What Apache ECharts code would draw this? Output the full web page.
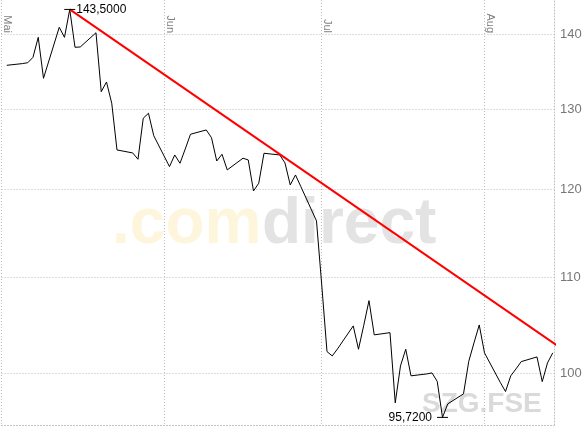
<!DOCTYPE html>
<html><head><meta charset="utf-8">
<script src="https://cdn.jsdelivr.net/npm/echarts@6/dist/echarts.min.js"></script>
<style>html,body{margin:0;padding:0;background:#fff}#c{width:587px;height:428px}</style>
</head><body><div id="c"></div>
<script>
// ---- data (SZG.FSE daily closes, May–Aug 2008) ----
const dates = [
 '2008-05-02','2008-05-05','2008-05-06','2008-05-07','2008-05-08','2008-05-09','2008-05-12','2008-05-13','2008-05-14','2008-05-15','2008-05-16',
 '2008-05-19','2008-05-20','2008-05-21','2008-05-22','2008-05-23','2008-05-26','2008-05-27','2008-05-28','2008-05-29','2008-05-30',
 '2008-06-02','2008-06-03','2008-06-04','2008-06-05','2008-06-06','2008-06-09','2008-06-10','2008-06-11','2008-06-12','2008-06-13',
 '2008-06-16','2008-06-17','2008-06-18','2008-06-19','2008-06-20','2008-06-23','2008-06-24','2008-06-25','2008-06-26','2008-06-27','2008-06-30',
 '2008-07-01','2008-07-02','2008-07-03','2008-07-04','2008-07-07','2008-07-08','2008-07-09','2008-07-10','2008-07-11',
 '2008-07-14','2008-07-15','2008-07-16','2008-07-17','2008-07-18','2008-07-21','2008-07-22','2008-07-23','2008-07-24','2008-07-25',
 '2008-07-28','2008-07-29','2008-07-30','2008-07-31','2008-08-01','2008-08-04','2008-08-05','2008-08-06','2008-08-07','2008-08-08',
 '2008-08-11','2008-08-12','2008-08-13','2008-08-14'
];
const closes = [
 135.76,135.99,136.11,136.84,139.58,134.02,140.98,139.58,143.50,138.21,138.25,
 140.22,132.25,133.53,130.74,124.82,124.45,123.67,128.81,129.45,126.60,
 122.77,124.20,123.18,124.94,126.78,127.32,126.35,123.46,124.29,122.37,
 123.80,123.59,119.84,120.76,124.41,124.20,123.22,120.56,121.76,120.39,116.33,
 109.17,102.18,101.74,102.45,104.82,102.42,104.87,107.48,103.89,
 104.12,97.11,100.74,102.42,99.75,99.94,100.04,99.20,95.72,97.01,
 97.98,101.19,103.07,104.92,102.05,99.11,98.21,99.75,100.44,101.17,
 101.64,99.18,101.04,102.05
];
const trendDates = ['2008-05-14','2008-08-21'];
const trendValues = [143.50, 100.54];
const monthTicks = ['2008-05-01','2008-06-01','2008-07-01','2008-08-01'];
const monthLabels = ['Mai','Jun','Jul','Aug'];
const yTicks = [100,110,120,130,140];
const yRange = [95, 144.85];
const xEndDays = 105.24;

// ---- helpers ----
const FONT = '"Liberation Sans", Arial, sans-serif';
const DAY = 86400000;
const BASE = Date.UTC(2008,4,1);
const toDay = s => { const p = s.split('-').map(Number); return (Date.UTC(p[0],p[1]-1,p[2]) - BASE)/DAY; };
const monthDays = monthTicks.map(toDay);
const logTicks = yTicks.map(Math.log);
const grid = {color:'#bcbcc4', type:[1,2], width:1};

const chart = echarts.init(document.getElementById('c'), null, {renderer:'canvas'});
chart.setOption({
  animation:false,
  backgroundColor:'#ffffff',
  grid:{left:1.5, right:33, top:0, bottom:3, containLabel:false, outerBoundsMode:'none'},
  xAxis:[{
    type:'value', position:'top', min:0, max:xEndDays,
    axisLine:{show:false, onZero:false},
    axisTick:{show:false, customValues:monthDays},
    axisLabel:{show:true, customValues:monthDays, inside:true, rotate:90, margin:33,
      align:'right', verticalAlign:'bottom', color:'#808080', fontSize:11, fontFamily:FONT,
      formatter:v => monthLabels[monthDays.indexOf(Math.round(v))] || ''},
    splitLine:{show:true, lineStyle:grid}
  },{
    type:'value', position:'bottom', min:0, max:xEndDays,
    axisLine:{show:true, onZero:false, lineStyle:grid},
    axisTick:{show:false}, axisLabel:{show:false}, splitLine:{show:false}
  }],
  yAxis:{
    type:'value', position:'right', min:Math.log(yRange[0]), max:Math.log(yRange[1]),
    axisLine:{show:true, onZero:false, lineStyle:grid},
    axisTick:{show:false, customValues:logTicks},
    axisLabel:{customValues:logTicks, margin:6, color:'#777', fontSize:13, fontFamily:FONT,
      formatter:v => String(Math.round(Math.exp(v)))},
    splitLine:{show:true, lineStyle:grid}
  },
  graphic:[
    {type:'text', z:0, left:112, top:193, silent:true,
      style:{text:'.com', font:'bold 64px "Liberation Sans", Arial', fill:'#fdf6dc'}},
    {type:'text', z:0, left:262, top:193, silent:true,
      style:{text:'direct', font:'bold 64px "Liberation Sans", Arial', fill:'#e3e3e3'}},
    {type:'text', z:0, left:422, top:390, silent:true,
      style:{text:'SZG.FSE', font:'bold 28px "Liberation Sans", Arial', fill:'#dadada'}}
  ],
  series:[{
    type:'line', xAxisIndex:0, symbol:'none', z:3,
    lineStyle:{color:'#000', width:1},
    data:dates.map((d,i) => [toDay(d), Math.log(closes[i])]),
    markPoint:{
      symbol:'rect', symbolSize:[11,1], itemStyle:{color:'#000'},
      label:{show:true, color:'#000', fontSize:12, fontFamily:FONT,
        formatter:p => Math.exp(p.value).toFixed(4).replace('.', ',')},
      data:[
        {type:'max', valueDim:'y', label:{position:'right', distance:1}},
        {type:'min', valueDim:'y', label:{position:'left', distance:5}}
      ]
    }
  },{
    type:'line', xAxisIndex:0, symbol:'none', clip:false, z:4,
    lineStyle:{color:'#ff0000', width:2},
    data:trendDates.map((d,i) => [toDay(d), Math.log(trendValues[i])])
  }]
});
</script></body></html>
